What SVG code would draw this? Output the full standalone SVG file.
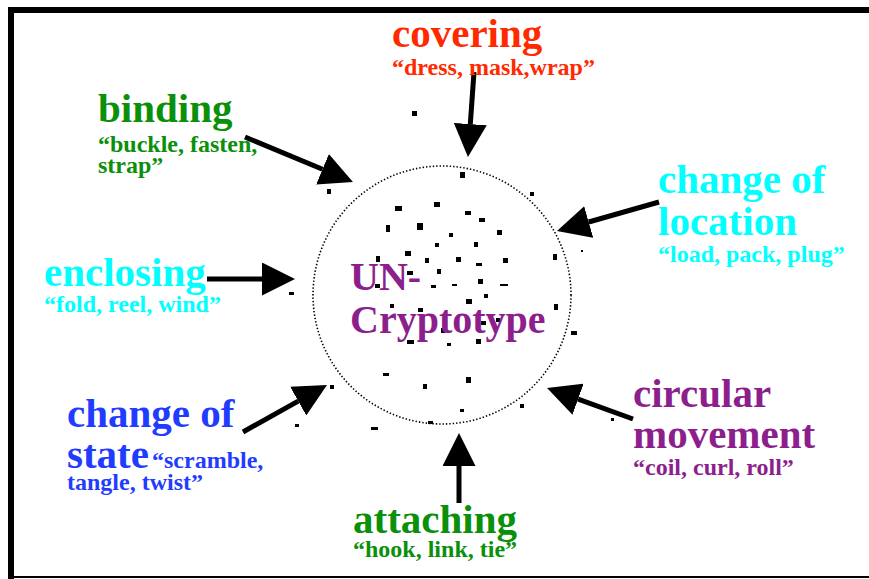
<svg xmlns="http://www.w3.org/2000/svg" width="869" height="579" viewBox="0 0 869 579">
<style>
text{font-family:"Liberation Serif","Times New Roman",serif;font-weight:bold}
.big{font-size:41px}
.small{font-size:24px}
.red{fill:#ff2a00}.green{fill:#0a900a}.cyan{fill:#00ffff}.blue{fill:#1f3cff}.purple{fill:#8c1f8c}
.arrow{stroke:#000;stroke-width:5;fill:none;marker-end:url(#head)}
.dots rect{fill:#000}
</style>
<defs>
<marker id="head" markerUnits="userSpaceOnUse" viewBox="0 0 33 33" markerWidth="33" markerHeight="33" refX="0" refY="16.5" orient="auto">
<path d="M0,0 L33,16.5 L0,33 z" fill="#000"/>
</marker>
</defs>
<rect width="869" height="579" fill="#fff"/>
<g id="frame">
<rect x="8" y="7" width="861" height="6" fill="#000"/>
<rect x="8" y="7" width="6" height="572" fill="#000"/>
<rect x="8" y="576" width="861" height="2" fill="#000"/>
</g>
<g id="center">
<circle cx="442" cy="295" r="129" fill="none" stroke="#000" stroke-width="1.6" stroke-dasharray="1.4,2"/>
<g class="dots">
<rect x="460" y="172" width="5" height="6"/><rect x="327" y="189" width="4" height="5"/><rect x="530" y="192" width="4" height="4"/>
<rect x="395" y="206" width="7" height="5"/><rect x="434" y="202" width="6" height="5"/><rect x="465" y="211" width="6" height="4"/>
<rect x="479" y="218" width="6" height="4"/><rect x="386" y="225" width="4" height="7"/><rect x="417" y="223" width="6" height="7"/>
<rect x="497" y="230" width="5" height="5"/><rect x="449" y="233" width="4" height="4"/><rect x="435" y="243" width="4" height="4"/>
<rect x="474" y="242" width="4" height="5"/><rect x="405" y="251" width="6" height="5"/><rect x="376" y="256" width="4" height="6"/>
<rect x="425" y="258" width="4" height="5"/><rect x="456" y="257" width="5" height="5"/><rect x="476" y="263" width="6" height="3"/>
<rect x="503" y="258" width="5" height="5"/><rect x="553" y="254" width="4" height="6"/><rect x="581" y="250" width="2" height="2"/>
<rect x="437" y="269" width="4" height="5"/><rect x="407" y="271" width="6" height="4"/><rect x="431" y="285" width="5" height="3"/>
<rect x="452" y="284" width="5" height="2"/><rect x="478" y="279" width="5" height="5"/><rect x="500" y="284" width="8" height="2"/>
<rect x="375" y="284" width="5" height="4"/><rect x="484" y="294" width="4" height="4"/><rect x="466" y="299" width="6" height="5"/>
<rect x="554" y="304" width="4" height="6"/><rect x="390" y="304" width="4" height="4"/><rect x="418" y="308" width="5" height="4"/>
<rect x="481" y="321" width="5" height="4"/><rect x="496" y="318" width="4" height="4"/><rect x="571" y="331" width="6" height="4"/>
<rect x="441" y="328" width="4" height="5"/><rect x="407" y="340" width="7" height="4"/><rect x="447" y="343" width="4" height="3"/>
<rect x="476" y="339" width="5" height="5"/><rect x="383" y="373" width="6" height="3"/><rect x="466" y="377" width="5" height="6"/>
<rect x="423" y="384" width="4" height="5"/><rect x="330" y="385" width="4" height="4"/><rect x="520" y="404" width="4" height="4"/>
<rect x="460" y="409" width="4" height="3"/><rect x="371" y="427" width="7" height="3"/><rect x="428" y="421" width="5" height="3"/>
<rect x="412" y="111" width="5" height="5"/><rect x="289" y="292" width="5" height="3"/><rect x="295" y="424" width="4" height="3"/>
<rect x="611" y="418" width="3" height="3"/>
</g>
<text x="350" y="290" font-size="40" class="purple">UN-</text>
<text x="350" y="333" font-size="40" class="purple">Cryptotype</text>
</g>
<g id="connectors">
<line class="arrow" x1="474" y1="72" x2="470.3" y2="124.1"/>
<line class="arrow" x1="245" y1="137" x2="322.5" y2="169.3"/>
<line class="arrow" x1="659" y1="202" x2="588.7" y2="222"/>
<line class="arrow" x1="207" y1="279" x2="262" y2="279"/>
<line class="arrow" x1="243" y1="432" x2="298.2" y2="401.1"/>
<line class="arrow" x1="633" y1="419" x2="578.1" y2="399.2"/>
<line class="arrow" x1="459" y1="503" x2="459" y2="466"/>
</g>
<g id="covering">
<text x="392" y="47" class="big red">covering</text>
<text x="392" y="75" class="small red">“dress, mask,wrap”</text>
</g>
<g id="binding">
<text x="98" y="122" class="big green">binding</text>
<text x="98" y="152" class="small green">“buckle, fasten,</text>
<text x="98" y="173" class="small green">strap”</text>
</g>
<g id="change-of-location">
<text x="658" y="193" class="big cyan">change of</text>
<text x="658" y="235" class="big cyan">location</text>
<text x="658" y="262" class="small cyan">“load, pack, plug”</text>
</g>
<g id="enclosing">
<text x="44" y="286" class="big cyan">enclosing</text>
<text x="44" y="312" class="small cyan">“fold, reel, wind”</text>
</g>
<g id="change-of-state">
<text x="67" y="427" class="big blue">change of</text>
<text x="67" y="468" class="big blue">state</text>
<text x="152" y="468" class="small blue">“scramble,</text>
<text x="67" y="490" class="small blue">tangle, twist”</text>
</g>
<g id="circular-movement">
<text x="633" y="407" class="big purple">circular</text>
<text x="633" y="448" class="big purple">movement</text>
<text x="633" y="475" class="small purple">“coil, curl, roll”</text>
</g>
<g id="attaching">
<text x="353" y="533" class="big green">attaching</text>
<text x="353" y="557" class="small green">“hook, link, tie”</text>
</g>
</svg>
